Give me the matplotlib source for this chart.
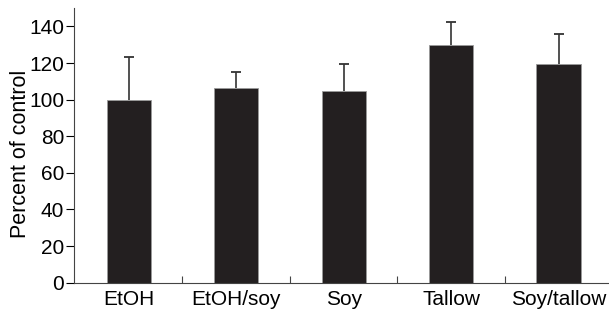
import matplotlib.pyplot as plt
import numpy as np

plt.rcParams['font.family'] = ['Liberation Sans', 'DejaVu Sans']

groups = ['EtOH', 'EtOH/soy', 'Soy', 'Tallow', 'Soy/tallow']
means = [100, 106.5, 104.5, 130, 119.5]
errs = [23.5, 8.6, 15, 12.2, 16.2]

x = np.arange(len(groups))
means = np.array(means)
errs = np.array(errs)

fig = plt.figure(figsize=(6.09, 3.11), dpi=100)
ax = fig.add_axes([0.1215, 0.091, 0.8785, 0.883])

ax.bar(x, means, width=0.41, color='#231f20', edgecolor='#9a9a9a', linewidth=0.6, zorder=2)
# upper-only error bars
ax.vlines(x, means, means + errs, color='#333333', linewidth=1.2, zorder=1)
ax.plot(x, means + errs, linestyle='none', marker='_', markersize=7,
        markeredgewidth=1.3, color='#333333', zorder=1)

ax.set_xlim(-0.51, 4.47)
ax.set_ylim(0, 150)
ax.set_yticks(np.arange(0, 141, 20))
ax.set_xticks(x)
ax.set_xticklabels(groups, fontsize=15)
ax.set_xticks(x[:-1] + 0.5, minor=True)
ax.tick_params(axis='x', which='major', length=0, pad=5)
ax.tick_params(axis='x', which='minor', direction='in', length=5, width=0.8, color='#444444')
ax.tick_params(axis='y', direction='out', length=6, width=0.8, labelsize=15, pad=1)
ax.set_ylabel('Percent of control', fontsize=15.5)
ax.yaxis.set_label_coords(-0.08, 0.468)

for s in ['top', 'right']:
    ax.spines[s].set_visible(False)
for s in ['left', 'bottom']:
    ax.spines[s].set_linewidth(0.8)
    ax.spines[s].set_color('#444444')

fig.savefig('out.png', dpi=100)
